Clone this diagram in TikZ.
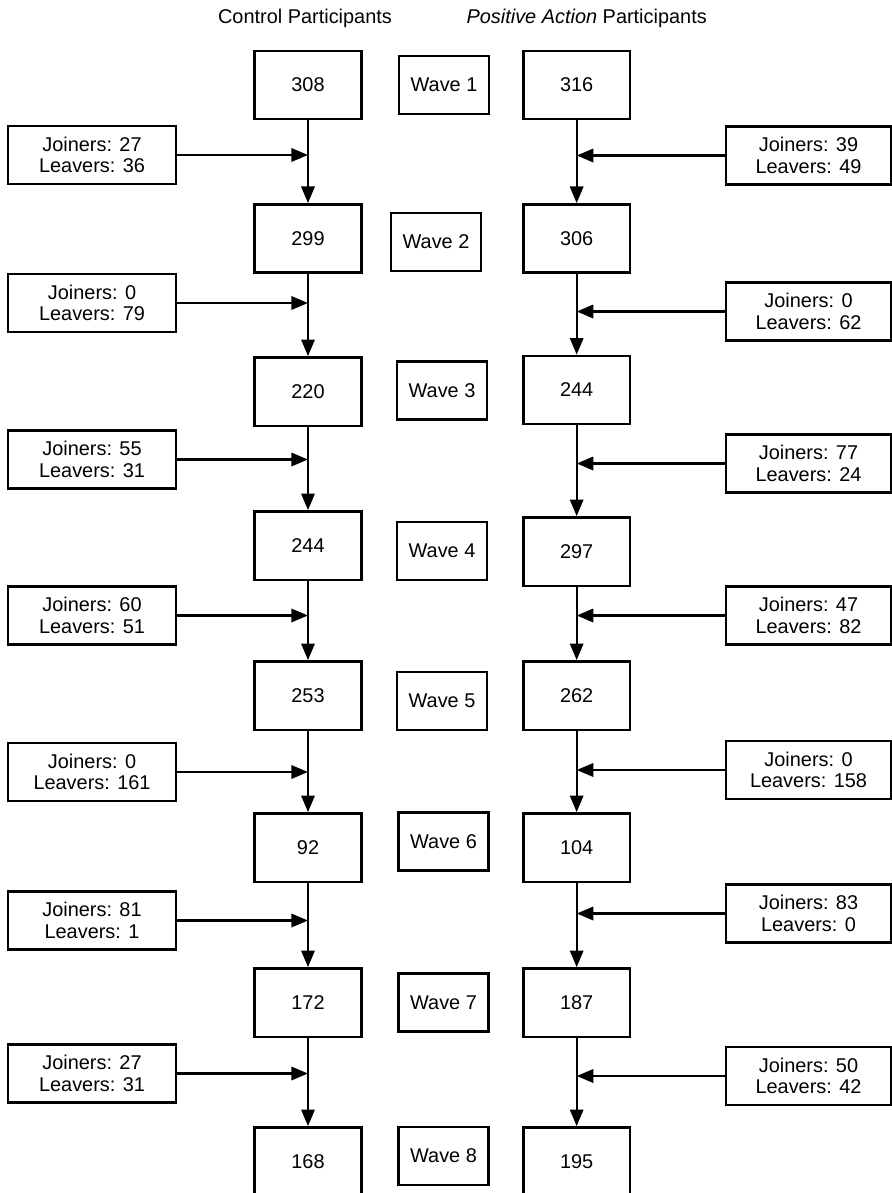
\documentclass[tikz,border=0pt]{standalone}
\usepackage{fontspec}
\setmainfont{Liberation Sans}
\usetikzlibrary{arrows.meta}

\begin{document}
\begin{tikzpicture}[line cap=round,
  every node/.style={font=\fontsize{17}{18.5}\selectfont},
  countbox/.style={draw, line width=2pt, minimum width=3.2cm, minimum height=2.05cm, inner sep=0pt},
  wavebox/.style={draw, line width=2pt, minimum width=2.7cm, minimum height=1.74cm, inner sep=0pt},
  flowbox/.style={draw, line width=2pt, minimum height=1.74cm, align=center, inner sep=0pt},
  flow/.style={-{Triangle[length=0.5cm,width=0.4cm]}, line width=2pt}]
  \useasboundingbox (0,0) rectangle (26.76,-35.79);
  % column headings
  \node (ctitle) at (9.15,-0.54) {Control Participants};
  \node (ptitle) at (17.60,-0.54) {\textit{Positive Action} Participants};
  % control column
  \node[countbox] (c1) at (9.24,-2.55) {308};
  \node[countbox] (c2) at (9.24,-7.155) {299};
  \node[countbox] (c3) at (9.24,-11.745) {220};
  \node[countbox] (c4) at (9.24,-16.365) {244};
  \node[countbox] (c5) at (9.24,-20.865) {253};
  \node[countbox] (c6) at (9.24,-25.425) {92};
  \node[countbox] (c7) at (9.24,-30.075) {172};
  \node[countbox] (c8) at (9.24,-34.845) {168};
  % wave labels
  \node[wavebox] (w1) at (13.32,-2.55) {Wave 1};
  \node[wavebox] (w2) at (13.08,-7.26) {Wave 2};
  \node[wavebox] (w3) at (13.26,-11.715) {Wave 3};
  \node[wavebox] (w4) at (13.26,-16.53) {Wave 4};
  \node[wavebox] (w5) at (13.26,-21.03) {Wave 5};
  \node[wavebox] (w6) at (13.305,-25.245) {Wave 6};
  \node[wavebox] (w7) at (13.305,-30.075) {Wave 7};
  \node[wavebox] (w8) at (13.305,-34.68) {Wave 8};
  % positive action column
  \node[countbox] (p1) at (17.30,-2.55) {316};
  \node[countbox] (p2) at (17.30,-7.155) {306};
  \node[countbox] (p3) at (17.30,-11.70) {244};
  \node[countbox] (p4) at (17.30,-16.545) {297};
  \node[countbox] (p5) at (17.30,-20.865) {262};
  \node[countbox] (p6) at (17.30,-25.425) {104};
  \node[countbox] (p7) at (17.30,-30.075) {187};
  \node[countbox] (p8) at (17.30,-34.845) {195};
  % joiners and leavers, control side
  \node[flowbox, minimum width=5.04cm] (cj1) at (2.76,-4.65) {Joiners: 27\\Leavers: 36};
  \node[flowbox, minimum width=5.04cm] (cj2) at (2.76,-9.09) {Joiners: 0\\Leavers: 79};
  \node[flowbox, minimum width=5.04cm] (cj3) at (2.76,-13.785) {Joiners: 55\\Leavers: 31};
  \node[flowbox, minimum width=5.04cm] (cj4) at (2.76,-18.465) {Joiners: 60\\Leavers: 51};
  \node[flowbox, minimum width=5.04cm] (cj5) at (2.76,-23.16) {Joiners: 0\\Leavers: 161};
  \node[flowbox, minimum width=5.04cm] (cj6) at (2.76,-27.615) {Joiners: 81\\Leavers: 1};
  \node[flowbox, minimum width=5.04cm] (cj7) at (2.76,-32.205) {Joiners: 27\\Leavers: 31};
  % joiners and leavers, positive action side
  \node[flowbox, minimum width=4.95cm] (pj1) at (24.255,-4.665) {Joiners: 39\\Leavers: 49};
  \node[flowbox, minimum width=4.95cm] (pj2) at (24.255,-9.345) {Joiners: 0\\Leavers: 62};
  \node[flowbox, minimum width=4.95cm] (pj3) at (24.255,-13.905) {Joiners: 77\\Leavers: 24};
  \node[flowbox, minimum width=4.95cm] (pj4) at (24.255,-18.465) {Joiners: 47\\Leavers: 82};
  \node[flowbox, minimum width=4.95cm] (pj5) at (24.255,-23.1) {Joiners: 0\\Leavers: 158};
  \node[flowbox, minimum width=4.95cm] (pj6) at (24.255,-27.405) {Joiners: 83\\Leavers: 0};
  \node[flowbox, minimum width=4.95cm] (pj7) at (24.255,-32.28) {Joiners: 50\\Leavers: 42};
  % wave to wave arrows
  \draw[flow] (c1) -- (c2); \draw[flow] (p1) -- (p2);
  \draw[flow] (c2) -- (c3); \draw[flow] (p2) -- (p3);
  \draw[flow] (c3) -- (c4); \draw[flow] (p3) -- (p4);
  \draw[flow] (c4) -- (c5); \draw[flow] (p4) -- (p5);
  \draw[flow] (c5) -- (c6); \draw[flow] (p5) -- (p6);
  \draw[flow] (c6) -- (c7); \draw[flow] (p6) -- (p7);
  \draw[flow] (c7) -- (c8); \draw[flow] (p7) -- (p8);
  % side arrows into the flow lines
  \draw[flow] (cj1.east) -- (cj1.east -| c1); \draw[flow] (pj1.west) -- (pj1.west -| p1);
  \draw[flow] (cj2.east) -- (cj2.east -| c2); \draw[flow] (pj2.west) -- (pj2.west -| p2);
  \draw[flow] (cj3.east) -- (cj3.east -| c3); \draw[flow] (pj3.west) -- (pj3.west -| p3);
  \draw[flow] (cj4.east) -- (cj4.east -| c4); \draw[flow] (pj4.west) -- (pj4.west -| p4);
  \draw[flow] (cj5.east) -- (cj5.east -| c5); \draw[flow] (pj5.west) -- (pj5.west -| p5);
  \draw[flow] (cj6.east) -- (cj6.east -| c6); \draw[flow] (pj6.west) -- (pj6.west -| p6);
  \draw[flow] (cj7.east) -- (cj7.east -| c7); \draw[flow] (pj7.west) -- (pj7.west -| p7);
\end{tikzpicture}
\end{document}
